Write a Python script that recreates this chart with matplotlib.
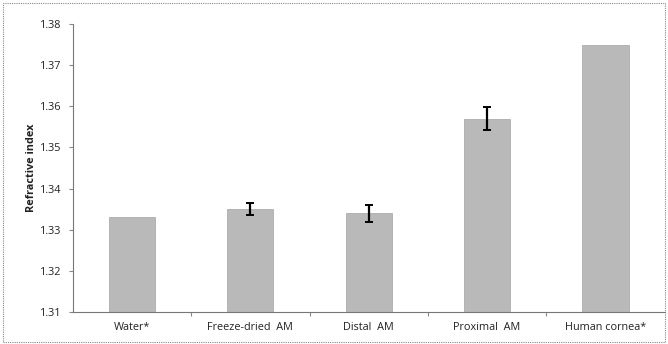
import matplotlib
matplotlib.use("Agg")
import matplotlib.pyplot as plt
from matplotlib.patches import Rectangle

categories = ["Water*", "Freeze-dried  AM", "Distal  AM", "Proximal  AM", "Human cornea*"]
refractive_index = [1.333, 1.335, 1.334, 1.357, 1.375]
errors = [0.0, 0.0015, 0.002, 0.0028, 0.0]
y_ticks = [1.31, 1.32, 1.33, 1.34, 1.35, 1.36, 1.37, 1.38]

plt.rcParams["font.family"] = ["Open Sans", "DejaVu Sans"]

fig = plt.figure(figsize=(6.68, 3.44), dpi=100)
ax = fig.add_axes([0.109, 0.093, 0.886, 0.837])

x = range(len(categories))
ymin = 1.31
heights = [v - ymin for v in refractive_index]
ax.bar(x, heights, bottom=ymin, width=0.39, color="#b9b9b9", edgecolor="#a4a4a4",
       linewidth=0.5, zorder=2)
err_x = [i for i, e in zip(x, errors) if e > 0]
err_y = [v for v, e in zip(refractive_index, errors) if e > 0]
err_e = [e for e in errors if e > 0]
ax.errorbar(err_x, err_y, yerr=err_e, fmt="none", ecolor="black", elinewidth=1.6,
            capsize=3, capthick=1.4, zorder=3)

ax.set_ylim(1.31, 1.38)
ax.set_xlim(-0.5, len(categories) - 0.5)
ax.set_yticks(y_ticks)
ax.set_yticklabels([f"{t:.2f}" for t in y_ticks], fontsize=7.8, color="#222222")
ax.set_xticks([i + 0.5 for i in range(len(categories) - 1)], minor=False)
ax.set_xticklabels([])
ax.set_xticks(list(x), minor=True)
ax.set_xticklabels(categories, minor=True, fontsize=7.8, color="#222222")
ax.tick_params(axis="x", which="minor", length=0, pad=7)
ax.tick_params(axis="x", which="major", length=3, color="#888888", direction="out")
ax.tick_params(axis="y", length=3, color="#888888", direction="out", pad=5)

for side in ("top", "right"):
    ax.spines[side].set_visible(False)
for side in ("left", "bottom"):
    ax.spines[side].set_color("#777777")
    ax.spines[side].set_linewidth(0.8)
    ax.spines[side].set_linestyle((0, (1, 1)))

ax.set_ylabel("Refractive index", fontsize=7.8, fontweight="bold", color="#222222",
              labelpad=2)

# dotted frame around the whole chart
fig.patches.append(Rectangle((0.004, 0.006), 0.992, 0.985, transform=fig.transFigure,
                             fill=False, edgecolor="#888888", linewidth=0.8,
                             linestyle=(0, (1, 1))))

fig.savefig("out.png", dpi=100)
